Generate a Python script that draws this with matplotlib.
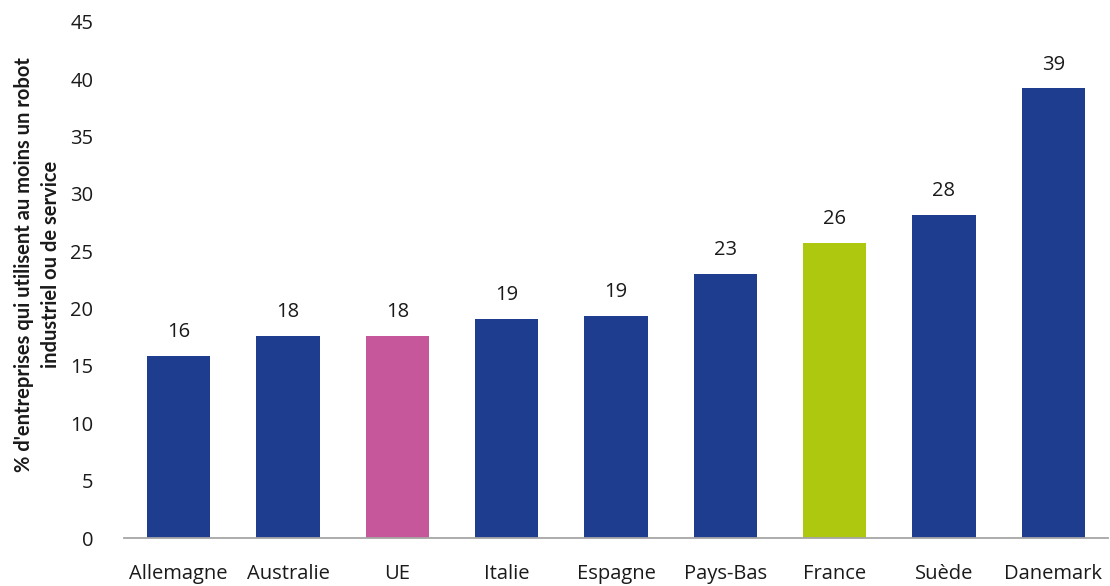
import numpy as np
import matplotlib
matplotlib.use("Agg")
import matplotlib.pyplot as plt

# Part des entreprises utilisant au moins un robot, par pays
pays = ["Allemagne", "Australie", "UE", "Italie", "Espagne",
        "Pays-Bas", "France", "Suède", "Danemark"]
valeurs = [15.9, 17.6, 17.6, 19.1, 19.4, 23.0, 25.7, 28.2, 39.2]

bleu = "#1f3d8e"
couleurs = [bleu, bleu, "#c6579a", bleu, bleu, bleu, "#adc80f", bleu, bleu]

plt.rcParams["font.family"] = ["Open Sans", "DejaVu Sans"]

fig = plt.figure(figsize=(11.1, 5.86), dpi=100)
ax = fig.add_axes([0.1117, 0.0819, 0.8865, 0.8806])

x = np.arange(len(pays))
bars = ax.bar(x, valeurs, width=0.58, color=couleurs)

# Étiquettes de valeur arrondies au-dessus des barres
ax.bar_label(bars, labels=["%d" % round(v) for v in valeurs],
             padding=10, fontsize=14.5, color="#1a1a1a")

ax.set_xlim(-0.5, len(pays) - 0.5)
ax.set_ylim(0, 45)
ax.set_yticks(range(0, 46, 5))
ax.set_xticks(x)
ax.set_xticklabels(pays)

for s in ["top", "right", "left"]:
    ax.spines[s].set_visible(False)
ax.spines["bottom"].set_color("#a6a6a6")
ax.spines["bottom"].set_linewidth(1.3)

ax.tick_params(axis="y", length=0, pad=22, labelsize=14.5, labelcolor="#1a1a1a")
ax.tick_params(axis="x", length=0, pad=19, labelsize=14.5, labelcolor="#1a1a1a")

ax.set_ylabel("% d'entreprises qui utilisent au moins un robot\nindustriel ou de service",
              fontsize=14.5, fontweight="bold", color="#1a1a1a",
              family=["Lato", "DejaVu Sans"], linespacing=1.45)
ax.yaxis.set_label_coords(-0.064, 0.53)

fig.savefig("out.png", dpi=100)
